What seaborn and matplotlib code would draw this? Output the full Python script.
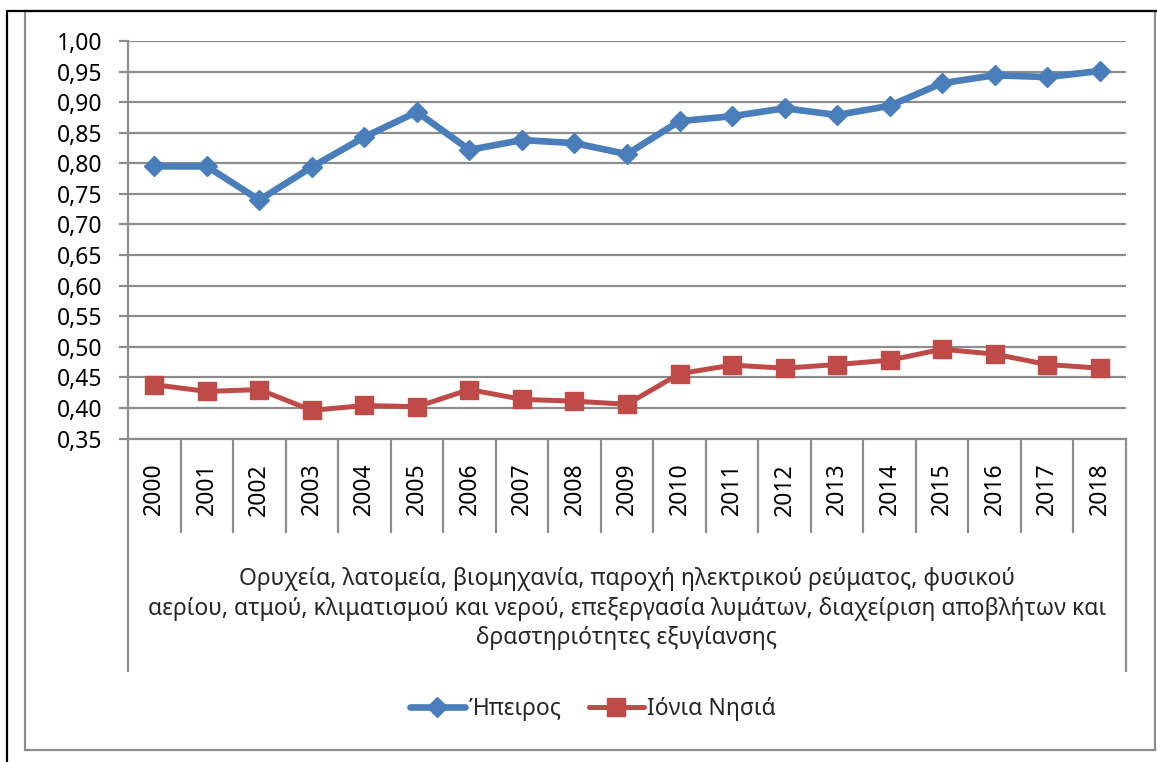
import numpy as np
import pandas as pd
import matplotlib
matplotlib.use("Agg")
import matplotlib.pyplot as plt
import matplotlib.transforms as mtransforms
from matplotlib.lines import Line2D
from matplotlib.patches import Rectangle
from matplotlib.ticker import FuncFormatter
import seaborn as sns

# Data
years = list(range(2000, 2019))
ipeiros = [0.795, 0.795, 0.740, 0.794, 0.843, 0.884, 0.822, 0.838, 0.833, 0.815,
           0.869, 0.877, 0.890, 0.879, 0.894, 0.931, 0.944, 0.941, 0.951]
ionia = [0.438, 0.427, 0.430, 0.396, 0.404, 0.402, 0.430, 0.414, 0.411, 0.406,
         0.456, 0.470, 0.465, 0.471, 0.478, 0.496, 0.488, 0.471, 0.465]
series_names = ["Ήπειρος", "Ιόνια Νησιά"]
category_label = ("Ορυχεία, λατομεία, βιομηχανία, παροχή ηλεκτρικού ρεύματος, φυσικού\n"
                  "αερίου, ατμού, κλιματισμού και νερού, επεξεργασία λυμάτων, διαχείριση αποβλήτων και\n"
                  "δραστηριότητες εξυγίανσης")

blue = "#4A7EBB"
red = "#BE4B48"
grid_grey = "#8C8C8C"

sns.set_theme(style="white")
plt.rcParams["font.family"] = ["Noto Sans", "DejaVu Sans"]
fs = 16.5

W, H = 1157, 762
fig = plt.figure(figsize=(W / 100, H / 100), dpi=100)


def fx(px):
    return px / W


def fy(py):
    return 1 - py / H


# outer frame lines
fig.add_artist(Rectangle((fx(25), fy(750)), fx(1155) - fx(25), fy(11) - fy(750),
                         transform=fig.transFigure, fill=False, ec=grid_grey, lw=1.6))
fig.add_artist(Line2D([fx(7), fx(1157)], [fy(11), fy(11)], transform=fig.transFigure,
                      color="black", lw=1.6))
fig.add_artist(Line2D([fx(7), fx(7)], [fy(11), fy(762)], transform=fig.transFigure,
                      color="black", lw=1.6))

ax_top, ax_bot = 41, 438.5
ax = fig.add_axes([fx(128), fy(ax_bot), fx(1126) - fx(128), fy(ax_top) - fy(ax_bot)])
ax_h = ax_bot - ax_top

df = pd.DataFrame({
    "year": years * 2,
    "value": ipeiros + ionia,
    "region": [series_names[0]] * len(years) + [series_names[1]] * len(years),
})

sns.lineplot(data=df[df.region == series_names[0]], x="year", y="value", ax=ax,
             color=blue, lw=4.8, marker="D", markersize=10, markeredgecolor=blue,
             markeredgewidth=1, label=series_names[0], legend=False)
sns.lineplot(data=df[df.region == series_names[1]], x="year", y="value", ax=ax,
             color=red, lw=3.6, marker="s", markersize=13, markeredgecolor=red,
             markeredgewidth=1, label=series_names[1], legend=False)

ax.set_xlim(years[0] - 0.5, years[-1] + 0.5)
ax.set_ylim(0.35, 1.00)
ax.set_yticks(np.arange(0.35, 1.0001, 0.05))
ax.yaxis.set_major_formatter(FuncFormatter(lambda v, p: f"{v:.2f}".replace(".", ",")))
ax.yaxis.grid(True, color=grid_grey, lw=1.6)
ax.set_axisbelow(True)
ax.set_xlabel("")
ax.set_ylabel("")

for s in ["top", "right"]:
    ax.spines[s].set_visible(False)
for s in ["left", "bottom"]:
    ax.spines[s].set_color(grid_grey)
    ax.spines[s].set_linewidth(1.6)

ax.tick_params(axis="y", left=True, length=6.5, width=1.6, color=grid_grey,
               pad=12, labelsize=fs, labelcolor="black")
ax.set_xticks(years)
ax.set_xticklabels([str(y) for y in years], rotation=90)
ax.tick_params(axis="x", length=0, pad=17.5, labelsize=fs, labelcolor="black")

# category separators below the axis
trans = mtransforms.blended_transform_factory(ax.transData, ax.transAxes)
sep_short = -(533 - ax_bot) / ax_h
sep_long = -(672 - ax_bot) / ax_h
for i in range(len(years) + 1):
    x = years[0] - 0.5 + i
    y_end = sep_long if i in (0, len(years)) else sep_short
    ax.plot([x, x], [0, y_end], transform=trans, color=grid_grey, lw=1.6,
            clip_on=False, solid_capstyle="butt")

ax.text(0.5, -(608.5 - ax_bot) / ax_h, category_label, transform=ax.transAxes,
        ha="center", va="center", multialignment="center", fontsize=fs,
        linespacing=1.32)

handles = [
    Line2D([], [], color=blue, lw=4.8, marker="D", markersize=10, markeredgecolor=blue),
    Line2D([], [], color=red, lw=3.6, marker="s", markersize=13, markeredgecolor=red),
]
fig.legend(handles, series_names, loc="center", bbox_to_anchor=(fx(593), fy(709)),
           ncol=2, frameon=False, fontsize=fs, handlelength=2.4, handletextpad=0.15,
           columnspacing=1.2)

fig.savefig("out.png", dpi=100)
